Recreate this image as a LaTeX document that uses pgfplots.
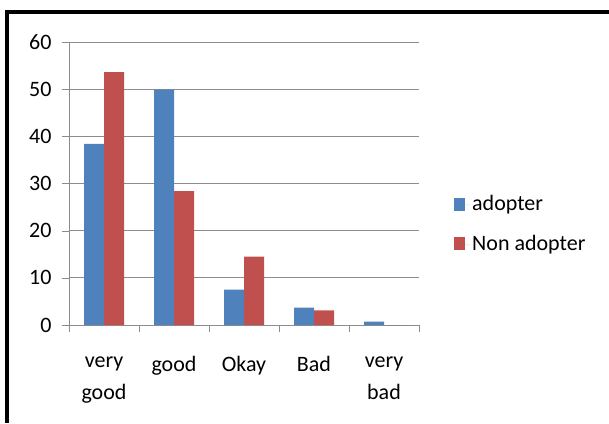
\documentclass[border=0pt]{standalone}
\usepackage{fontspec}
\setmainfont{Carlito}
\usepackage{pgfplots}
\pgfplotsset{compat=1.18}

\definecolor{adopt}{HTML}{4F81BD}
\definecolor{nonadopt}{HTML}{C0504D}
\definecolor{gridgray}{HTML}{8C8C8C}

\begin{document}
\fontsize{22}{32}\selectfont
\begin{tikzpicture}[x=1pt,y=1pt]
\useasboundingbox (0,0) rectangle (609,423);
% chart frame (cropped: only top and left edges show)
\draw[line width=4.5pt] (7,0) -- (7,411) -- (611,411);
\begin{axis}[
    at={(69pt,98pt)}, anchor=south west,
    scale only axis,
    width=350pt, height=283pt,
    xmin=-0.5, xmax=4.5,
    ymin=0, ymax=60,
    ytick={0,10,...,60},
    xtick={0,...,4},
    xticklabels={{very\\good},good,Okay,Bad,{very\\bad}},
    minor xtick={-0.5,0.5,...,4.5},
    x tick label style={align=center, yshift=-17pt},
    y tick label style={xshift=-3pt},
    major x tick style={draw=none},
    minor x tick style={gridgray},
    y tick style={gridgray},
    tick align=outside,
    major tick length=7pt,
    minor tick length=7pt,
    axis x line*=bottom,
    axis y line*=left,
    axis line style={gridgray, -},
    ymajorgrids,
    major grid style={gridgray, line width=0.8pt},
    /pgf/number format/assume math mode=true,
    ybar=0pt,
    bar width=20pt,
    legend style={at={(1.10,0.355)}, anchor=west, draw=none, fill=none,
        row sep=17pt, inner sep=0pt},
    legend cell align=left,
    legend image code/.code={\path (0pt,0pt) -- (16pt,0pt);
        \fill[#1] (0pt,-6pt) rectangle (11pt,7pt);},
]
\addplot[fill=adopt, draw=none] coordinates {
    (0,38.4) (1,49.9) (2,7.5) (3,3.7) (4,0.7)
};
\addlegendentry{adopter}
\addplot[fill=nonadopt, draw=none] coordinates {
    (0,53.6) (1,28.4) (2,14.5) (3,3.1) (4,0)
};
\addlegendentry{Non adopter}
\end{axis}
\end{tikzpicture}
\end{document}
